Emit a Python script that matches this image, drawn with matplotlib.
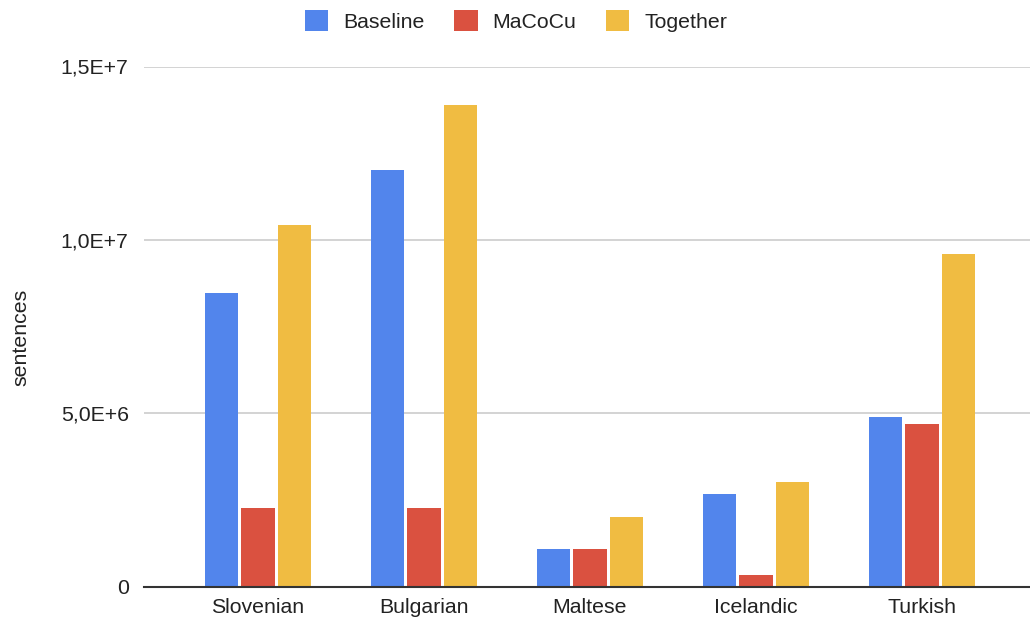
import numpy as np
import matplotlib.pyplot as plt

plt.rcParams['font.family'] = ['Liberation Sans', 'DejaVu Sans']

languages = ["Slovenian", "Bulgarian", "Maltese", "Icelandic", "Turkish"]
baseline = [8.48e6, 12.02e6, 1.08e6, 2.68e6, 4.90e6]
macocu = [2.28e6, 2.28e6, 1.08e6, 0.33e6, 4.69e6]
together = [10.43e6, 13.90e6, 2.02e6, 3.01e6, 9.60e6]

series_names = ["Baseline", "MaCoCu", "Together"]
colors = ["#5285EC", "#DA5140", "#F0BC42"]
yticks = [0, 5e6, 1e7, 1.5e7]
ytick_labels = ["0", "5,0E+6", "1,0E+7", "1,5E+7"]

fig = plt.figure(figsize=(10.3, 6.2), dpi=100)
ax = fig.add_axes([144 / 1030, 1 - 586.7 / 620, 1 - 144 / 1030, (586.7 - 66.5) / 620])

x = np.arange(len(languages))
width = 0.2
offset = 0.22
handles = []
for k, (vals, col) in enumerate(zip([baseline, macocu, together], colors)):
    b = ax.bar(x + (k - 1) * offset, vals, width, color=col, zorder=3)
    handles.append(b)

ax.set_xlim(-0.687, 4.651)
ax.set_ylim(0, 1.5e7)
ax.set_yticks(yticks)
ax.set_yticklabels(ytick_labels)
ax.set_xticks(x)
ax.set_xticklabels(languages)
ax.tick_params(axis='both', length=0, labelsize=15.3, colors='#222222')
ax.tick_params(axis='y', pad=11)
ax.tick_params(axis='x', pad=8)
ax.yaxis.grid(True, color='#cccccc', linewidth=1.2, zorder=0)
for s in ['top', 'right', 'left']:
    ax.spines[s].set_visible(False)
ax.spines['bottom'].set_color('#333333')
ax.spines['bottom'].set_linewidth(1.5)
ax.spines['bottom'].set_zorder(4)

ax.set_ylabel("sentences", fontsize=15.3, color='#222222')
ax.yaxis.set_label_coords(-(144 - 30) / 886, 0.48)

fig.legend(handles, series_names, loc='center', bbox_to_anchor=(0.501, 1 - 21 / 620),
           ncol=3, frameon=False, fontsize=15.3, handlelength=1.1, handleheight=1.1,
           handletextpad=0.7, columnspacing=1.4, labelcolor='#222222')

fig.savefig("out.png", dpi=100)
